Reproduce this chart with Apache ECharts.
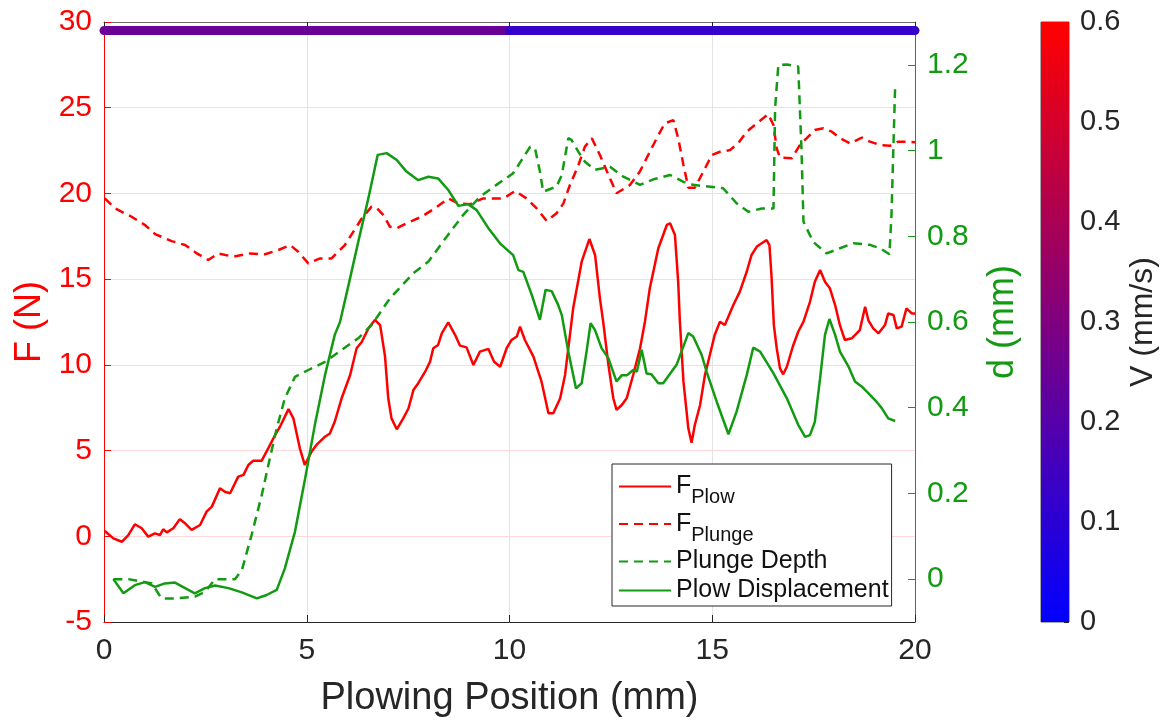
<!DOCTYPE html>
<html>
<head>
<meta charset="utf-8">
<script src="https://cdn.jsdelivr.net/npm/echarts@6/dist/echarts.min.js"></script>
<style>
  html, body { margin: 0; padding: 0; background: #fff; }
  #chart { width: 1173px; height: 721px; }
</style>
</head>
<body>
<div id="chart"></div>
<script>
// Plowing force (left axis, N) and depth/displacement (right axis, mm)
// against plowing position, with the tool velocity drawn as a coloured bar.

const xTicks = [0, 5, 10, 15, 20];
const forceTicks = [-5, 0, 5, 10, 15, 20, 25, 30];
const depthTicks = [0, 0.2, 0.4, 0.6, 0.8, 1, 1.2];
const velocityTicks = [0, 0.1, 0.2, 0.3, 0.4, 0.5, 0.6];

// F_Plow (N)
const plowForceX = [0.02,0.23,0.44,0.60,0.76,0.93,1.09,1.26,1.38,1.46,1.55,1.71,1.87,2.00,2.16,2.37,2.53,2.66,2.86,2.98,3.11,3.31,3.44,3.56,3.68,3.89,4.05,4.22,4.34,4.55,4.67,4.83,4.95,5.12,5.24,5.45,5.57,5.69,5.86,6.07,6.23,6.36,6.52,6.68,6.81,6.93,7.01,7.09,7.22,7.38,7.51,7.63,7.75,7.92,8.04,8.12,8.24,8.33,8.49,8.66,8.78,8.94,9.11,9.27,9.48,9.62,9.77,9.93,10.05,10.18,10.26,10.38,10.59,10.79,10.88,10.96,11.08,11.25,11.37,11.49,11.57,11.78,11.97,12.11,12.23,12.31,12.44,12.56,12.64,12.77,12.89,13.05,13.22,13.34,13.46,13.67,13.88,13.96,14.08,14.16,14.20,14.29,14.41,14.49,14.57,14.70,14.82,14.94,15.06,15.19,15.31,15.52,15.68,15.85,15.97,16.10,16.22,16.34,16.41,16.46,16.52,16.59,16.67,16.75,16.84,17.00,17.12,17.25,17.41,17.53,17.66,17.78,17.90,18.03,18.15,18.27,18.44,18.64,18.77,18.85,18.97,19.10,19.26,19.34,19.47,19.55,19.67,19.79,19.92,20.00];
const plowForceY = [0.31,-0.12,-0.32,0.07,0.70,0.47,-0.02,0.17,0.07,0.41,0.23,0.47,1.00,0.76,0.37,0.66,1.44,1.73,2.80,2.60,2.51,3.48,3.58,4.16,4.41,4.41,5.13,5.91,6.39,7.42,6.88,5.13,4.16,4.94,5.33,5.81,6.00,6.68,8.05,9.41,10.97,11.35,12.13,12.62,12.32,10.50,8.05,6.88,6.24,6.88,7.47,8.53,8.93,9.60,10.18,10.97,11.16,11.84,12.48,11.74,11.12,11.02,9.99,10.77,10.93,10.18,9.89,10.97,11.45,11.65,12.23,11.45,10.48,9.02,8.05,7.18,7.18,8.05,9.41,11.74,13.30,16.02,17.34,16.41,13.88,12.52,9.99,8.05,7.37,7.66,8.05,9.41,10.97,12.52,14.47,16.80,18.16,18.26,17.57,14.85,12.60,9.02,6.30,5.46,6.49,7.66,9.41,10.57,11.74,12.52,12.32,13.49,14.27,15.43,16.41,16.90,17.09,17.28,16.99,15.24,12.30,10.97,9.80,9.45,9.89,11.16,11.93,12.52,13.68,14.85,15.53,14.85,14.47,13.49,12.30,11.45,11.55,12.03,13.39,12.60,12.13,11.84,12.32,13.00,12.91,12.13,12.23,13.30,13.00,13.00];

// F_Plunge (N)
const plungeForceX = [0.02,0.27,0.68,1.01,1.26,1.67,2.00,2.29,2.57,2.82,3.19,3.60,3.97,4.30,4.59,4.79,5.04,5.33,5.61,5.94,6.15,6.36,6.60,6.72,6.89,7.05,7.22,7.46,7.83,8.16,8.49,8.74,9.03,9.35,9.60,9.85,10.14,10.42,10.67,10.92,11.16,11.33,11.49,11.70,11.86,12.03,12.23,12.44,12.64,12.97,13.22,13.38,13.63,13.83,14.04,14.16,14.29,14.41,14.57,14.78,14.99,15.19,15.44,15.64,15.85,16.10,16.38,16.51,16.59,16.67,16.96,17.16,17.33,17.53,17.74,17.95,18.15,18.40,18.69,18.89,19.14,19.38,19.59,19.79,20.00];
const plungeForceY = [19.71,19.13,18.64,18.16,17.63,17.22,16.99,16.50,16.12,16.50,16.31,16.50,16.45,16.70,16.99,16.60,15.92,16.21,16.21,16.99,17.77,18.55,19.23,19.17,18.74,18.06,17.97,18.26,18.64,19.13,19.71,19.42,19.37,19.71,19.71,19.71,20.14,19.71,19.13,18.39,18.84,19.42,20.49,21.66,22.73,23.22,22.24,21.08,20.01,20.49,21.30,22.05,23.22,24.09,24.28,23.22,21.66,20.33,20.33,21.27,22.24,22.43,22.53,22.92,23.60,24.09,24.62,23.99,22.63,22.09,22.05,22.82,23.22,23.70,23.80,23.60,23.22,22.92,23.26,23.02,22.82,22.78,23.02,23.02,22.98];

// Plunge depth (mm)
const plungeDepthX = [0.23,0.60,1.18,1.42,1.75,2.24,2.49,2.74,3.23,3.40,3.64,3.89,4.09,4.26,4.46,4.71,5.04,5.45,5.86,6.27,6.60,7.05,7.63,8.00,8.45,8.86,9.27,9.68,10.09,10.51,10.63,10.75,10.83,11.16,11.29,11.45,11.53,11.70,11.86,12.11,12.48,12.81,13.22,13.55,13.96,14.29,14.53,15.27,15.60,15.89,16.22,16.51,16.55,16.63,16.84,17.12,17.20,17.25,17.49,17.82,18.15,18.48,18.89,19.14,19.37,19.42,19.51];
const plungeDepthY = [0.000,0.000,-0.010,-0.045,-0.045,-0.041,-0.030,0.000,0.000,0.021,0.103,0.196,0.282,0.352,0.422,0.472,0.488,0.507,0.535,0.562,0.593,0.655,0.714,0.741,0.799,0.850,0.892,0.920,0.947,1.009,1.005,0.951,0.904,0.916,0.943,1.029,1.025,0.997,0.974,0.955,0.962,0.939,0.920,0.933,0.943,0.927,0.920,0.912,0.877,0.857,0.865,0.865,1.099,1.200,1.201,1.196,1.005,0.834,0.787,0.760,0.772,0.784,0.780,0.772,0.758,0.850,1.149];

// Plow displacement (mm)
const plowDispX = [0.23,0.48,0.76,1.01,1.26,1.50,1.75,2.00,2.24,2.49,2.74,3.07,3.40,3.77,4.01,4.26,4.46,4.71,4.96,5.20,5.45,5.69,5.82,6.03,6.27,6.52,6.75,6.97,7.22,7.46,7.75,8.00,8.24,8.49,8.74,8.98,9.19,9.48,9.77,10.09,10.22,10.34,10.55,10.75,10.89,11.04,11.20,11.29,11.45,11.64,11.78,11.90,12.00,12.11,12.27,12.44,12.64,12.77,12.90,13.05,13.14,13.26,13.38,13.50,13.67,13.79,14.12,14.41,14.53,14.74,14.86,15.11,15.40,15.60,15.85,16.01,16.18,16.51,16.84,17.12,17.29,17.41,17.53,17.66,17.78,17.89,18.03,18.15,18.36,18.52,18.69,18.89,19.05,19.18,19.34,19.51];
const plowDispY = [0.000,-0.033,-0.014,-0.007,-0.018,-0.010,-0.008,-0.021,-0.033,-0.021,-0.015,-0.021,-0.031,-0.045,-0.037,-0.025,0.025,0.111,0.235,0.360,0.476,0.570,0.600,0.686,0.787,0.889,0.990,0.994,0.978,0.951,0.931,0.939,0.935,0.908,0.871,0.875,0.861,0.819,0.783,0.756,0.721,0.717,0.663,0.605,0.675,0.672,0.640,0.616,0.531,0.445,0.457,0.531,0.597,0.581,0.539,0.515,0.461,0.476,0.476,0.488,0.484,0.535,0.480,0.478,0.457,0.457,0.500,0.574,0.566,0.523,0.484,0.414,0.338,0.391,0.476,0.540,0.531,0.480,0.422,0.360,0.332,0.336,0.367,0.469,0.570,0.607,0.570,0.531,0.496,0.461,0.449,0.430,0.414,0.399,0.375,0.369];

// Tool velocity (mm/s) over position segments
const velocitySegX = [0, 10, 20];
const velocityV = [0.25, 0.125];

const seriesNames = ['F_Plow', 'F_Plunge', 'Plunge Depth', 'Plow Displacement'];
const legendLabels = ['{b|F}{s|Plow}', '{b|F}{s|Plunge}', '{b|Plunge Depth}', '{b|Plow Displacement}'];

const FONT = '"Liberation Sans", Arial, Helvetica, sans-serif';
const RED = '#ff0000';
const GREEN = '#129a12';
const INK = '#262626';
const V_MAX = 0.6;
const BAR_LEVEL = 29.5;   // force-axis level of the velocity bar

const zip = (xs, ys) => xs.map((x, i) => [x, ys[i]]);

// blue -> red colormap used by both the velocity bar and the colour scale
function velocityColor(v) {
  const t = Math.max(0, Math.min(1, v / V_MAX));
  const r = Math.round(255 * t), b = Math.round(255 * (1 - t));
  return 'rgb(' + r + ',0,' + b + ')';
}

const velocitySeries = velocityV.map((v, i) => ({
  type: 'line', xAxisIndex: 0, yAxisIndex: 0,
  data: [[velocitySegX[i], BAR_LEVEL], [velocitySegX[i + 1], BAR_LEVEL]],
  symbol: 'none', clip: false, silent: true, z: 5,
  lineStyle: { color: velocityColor(v), width: 9, cap: 'round' }
}));

const chart = echarts.init(document.getElementById('chart'), null, { renderer: 'canvas' });

chart.setOption({
  animation: false,
  backgroundColor: '#ffffff',
  textStyle: { fontFamily: FONT },
  grid: [
    { left: 104, top: 22, width: 811, height: 600, containLabel: false, outerBoundsMode: 'none' },
    { left: 1041, top: 22, width: 28, height: 600, containLabel: false, outerBoundsMode: 'none',
      show: true, borderColor: '#555555', borderWidth: 1, backgroundColor: 'transparent' }
  ],
  xAxis: [
    { type: 'value', gridIndex: 0, min: xTicks[0], max: xTicks[xTicks.length - 1], interval: 5,
      name: 'Plowing Position (mm)', nameLocation: 'middle', nameGap: 58,
      nameTextStyle: { color: INK, fontSize: 38, fontFamily: FONT },
      axisLine: { show: true, onZero: false, lineStyle: { color: INK, width: 1 } },
      axisTick: { show: true, inside: true, length: 7, lineStyle: { color: INK } },
      axisLabel: { color: INK, fontSize: 30, margin: 14, fontFamily: FONT },
      splitLine: { show: true, lineStyle: { color: '#e3e3e3', width: 1 } } },
    { type: 'value', gridIndex: 0, position: 'top', min: xTicks[0], max: xTicks[xTicks.length - 1], interval: 5,
      axisLine: { show: true, onZero: false, lineStyle: { color: '#6a6a6a', width: 1 } },
      axisTick: { show: true, inside: true, length: 7, lineStyle: { color: INK } },
      axisLabel: { show: false }, splitLine: { show: false } },
    { type: 'category', gridIndex: 1, data: ['V'],
      axisLine: { show: false }, axisTick: { show: false }, axisLabel: { show: false }, splitLine: { show: false } }
  ],
  yAxis: [
    { type: 'value', gridIndex: 0, position: 'left', min: forceTicks[0], max: forceTicks[forceTicks.length - 1], interval: 5,
      name: 'F (N)', nameLocation: 'middle', nameGap: 52, nameRotate: 90,
      nameTextStyle: { color: RED, fontSize: 36, fontFamily: FONT },
      axisLine: { show: true, onZero: false, lineStyle: { color: RED, width: 1 } },
      axisTick: { show: true, inside: true, length: 7, lineStyle: { color: RED } },
      axisLabel: { color: RED, fontSize: 30, margin: 12, fontFamily: FONT },
      splitLine: { show: true, lineStyle: { color: '#ffd9d9', width: 1 } } },
    { type: 'value', gridIndex: 0, position: 'right', min: -0.1, max: 1.3,
      name: 'd (mm)', nameLocation: 'middle', nameGap: 70, nameRotate: 90,
      nameTextStyle: { color: GREEN, fontSize: 36, fontFamily: FONT },
      axisLine: { show: true, onZero: false, lineStyle: { color: GREEN, width: 1 } },
      axisTick: { show: true, inside: true, length: 7, lineStyle: { color: GREEN }, customValues: depthTicks },
      axisLabel: { color: GREEN, fontSize: 30, margin: 12, fontFamily: FONT, customValues: depthTicks,
        formatter: v => String(Math.round(v * 10) / 10) },
      splitLine: { show: false } },
    { type: 'value', gridIndex: 1, position: 'right', min: velocityTicks[0], max: velocityTicks[velocityTicks.length - 1], interval: 0.1,
      name: 'V (mm/s)', nameLocation: 'middle', nameGap: 58, nameRotate: 90,
      nameTextStyle: { color: INK, fontSize: 32, fontFamily: FONT },
      axisLine: { show: false },
      axisTick: { show: true, inside: true, length: 5, lineStyle: { color: INK } },
      axisLabel: { color: INK, fontSize: 29, margin: 11, fontFamily: FONT,
        formatter: v => String(Math.round(v * 10) / 10) },
      splitLine: { show: false } }
  ],
  legend: {
    orient: 'vertical', left: 612, top: 464,
    data: seriesNames,
    itemWidth: 52, itemHeight: 14, itemGap: 4,
    padding: [10, 3, 3, 6],
    borderColor: INK, borderWidth: 1, backgroundColor: '#ffffff',
    itemStyle: { opacity: 0 },
    formatter: name => legendLabels[seriesNames.indexOf(name)],
    textStyle: {
      color: '#111111', fontFamily: FONT,
      rich: {
        b: { fontSize: 25, color: '#111111', fontFamily: FONT },
        s: { fontSize: 20, color: '#111111', fontFamily: FONT, padding: [22, 0, 0, 0] }
      }
    }
  },
  series: [
    { name: seriesNames[0], type: 'line', xAxisIndex: 0, yAxisIndex: 0,
      data: zip(plowForceX, plowForceY), symbol: 'none', z: 3,
      lineStyle: { color: RED, width: 2.5 }, itemStyle: { color: RED } },
    { name: seriesNames[1], type: 'line', xAxisIndex: 0, yAxisIndex: 0,
      data: zip(plungeForceX, plungeForceY), symbol: 'none', z: 3,
      lineStyle: { color: RED, width: 2.5, type: [9, 6] }, itemStyle: { color: RED } },
    { name: seriesNames[2], type: 'line', xAxisIndex: 0, yAxisIndex: 1,
      data: zip(plungeDepthX, plungeDepthY), symbol: 'none', z: 4,
      lineStyle: { color: GREEN, width: 2.5, type: [9, 6] }, itemStyle: { color: GREEN } },
    { name: seriesNames[3], type: 'line', xAxisIndex: 0, yAxisIndex: 1,
      data: zip(plowDispX, plowDispY), symbol: 'none', z: 4,
      lineStyle: { color: GREEN, width: 2.5 }, itemStyle: { color: GREEN } },
    ...velocitySeries,
    { type: 'bar', xAxisIndex: 2, yAxisIndex: 2, data: [V_MAX], barWidth: '100%', silent: true,
      itemStyle: { color: new echarts.graphic.LinearGradient(0, 1, 0, 0, [
        { offset: 0, color: velocityColor(0) },
        { offset: 1, color: velocityColor(V_MAX) }
      ]) } }
  ]
});
</script>
</body>
</html>
